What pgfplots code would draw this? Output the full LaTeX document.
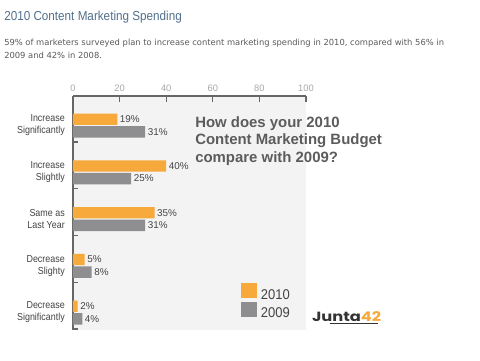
\documentclass[border=0pt]{standalone}
\usepackage{pgfplots}
\pgfplotsset{compat=1.18}
\usepackage{fontspec}
\setmainfont{Liberation Sans}
\newfontfamily\catfont[FakeStretch=0.88]{Liberation Sans}
\newfontfamily\titlefont[FakeStretch=0.9]{Liberation Sans}
\newfontfamily\legfont[FakeStretch=0.92]{Liberation Sans}
\newfontfamily\subfont{DejaVu Sans}
\newfontfamily\logofont[FakeStretch=1.22]{Poppins}
\definecolor{barorange}{HTML}{F7A93B}
\definecolor{bargrey}{HTML}{8E8E90}
\definecolor{panel}{HTML}{F3F3F3}
\definecolor{titleblue}{HTML}{52708C}
\definecolor{subgrey}{HTML}{5A5A5A}
\definecolor{labgrey}{HTML}{444444}
\definecolor{tickgrey}{HTML}{A8A8A8}
\definecolor{headgrey}{HTML}{5C5C5C}
\definecolor{axisgrey}{HTML}{666666}
\definecolor{logodark}{HTML}{333333}
\begin{document}
\begin{tikzpicture}
\path[use as bounding box, fill=white] (0,0) rectangle (360pt,-270.75pt);
\node[anchor=base west, inner sep=0pt, text=titleblue, font=\titlefont\fontsize{9.75}{11}\selectfont] at (3pt,-15pt) {2010 Content Marketing Spending};
\node[anchor=base west, inner sep=0pt, text=subgrey, font=\subfont\fontsize{6.27}{9.75}\selectfont] at (3pt,-33.75pt) {59\% of marketers surveyed plan to increase content marketing spending in 2010, compared with 56\% in};
\node[anchor=base west, inner sep=0pt, text=subgrey, font=\subfont\fontsize{6.27}{9.75}\selectfont] at (3pt,-43.9pt) {2009 and 42\% in 2008.};
\begin{axis}[
  at={(54.75pt,-72pt)}, anchor=north west,
  scale only axis, width=174.75pt, height=175.5pt,
  xbar, bar width=8.6pt,
  xmin=0, xmax=100, ymin=-0.374, ymax=4.631,
  axis x line*=top, axis y line*=left,
  axis line style={-, draw=axisgrey, line width=0.8pt},
  axis background/.style={fill=panel},
  tick align=inside,
  xtick={0,20,...,100},
  major tick length=4.5pt, minor tick length=3.75pt,
  major x tick style={draw=axisgrey, line width=0.8pt},
  major y tick style={draw=none},
  minor y tick style={draw=axisgrey, line width=0.8pt},
  ytick={0,1,2,3,4},
  minor ytick={-0.353,0.647,1.647,2.647,3.647},
  yticklabels={{Decrease\\Significantly},{Decrease\\Slighty},{Same as\\Last Year},{Increase\\Slightly},{Increase\\Significantly}},
  yticklabel style={font=\catfont\fontsize{7.6}{9}\selectfont, align=right, text=labgrey, inner sep=0pt, anchor=east, xshift=-6pt},
  xticklabel style={font=\fontsize{7}{8}\selectfont, text=tickgrey},
  /pgf/number format/assume math mode=true,
  nodes near coords={\pgfmathprintnumber{\pgfplotspointmeta}\%},
  every node near coord/.append style={anchor=west, font=\fontsize{7.4}{8}\selectfont, text=labgrey, inner sep=0pt, xshift=1.8pt},
  legend style={at={(0.721,0.201)}, anchor=north west, draw=none, fill=none, inner sep=0pt, row sep=0.4pt, column sep=3.2pt, font=\legfont\fontsize{10.6}{12}\selectfont, text=labgrey, nodes={inner sep=0pt}},
  sq/.style={legend image code/.code={\fill[##1, draw=none] (0pt,-2.2pt) rectangle (11.5pt,9pt);}},
]
\addplot[fill=barorange, draw=none, bar shift=4.7pt, sq] coordinates {(19,4) (40,3) (35,2) (5,1) (2,0)};
\addplot[fill=bargrey, draw=none, bar shift=-4.7pt, sq] coordinates {(31,4) (25,3) (31,2) (8,1) (4,0)};
\legend{2010,2009}
\end{axis}
\node[anchor=base west, inner sep=0pt, text=headgrey, font=\bfseries\fontsize{11.2}{13}\selectfont] at (146.25pt,-95.25pt) {How does your 2010};
\node[anchor=base west, inner sep=0pt, text=headgrey, font=\bfseries\fontsize{11.2}{13}\selectfont] at (146.25pt,-108.4pt) {Content Marketing Budget};
\node[anchor=base west, inner sep=0pt, text=headgrey, font=\bfseries\fontsize{11.2}{13}\selectfont] at (146.25pt,-121.5pt) {compare with 2009?};
\node[anchor=base west, inner sep=0pt, font=\logofont\bfseries\fontsize{10}{12}\selectfont] at (233.8pt,-240.75pt) {\textcolor{logodark}{Junta}\textcolor{barorange}{42}};
\draw[logodark, line width=0.9pt] (247.5pt,-242.6pt) -- (283.5pt,-242.6pt);
\end{tikzpicture}
\end{document}
